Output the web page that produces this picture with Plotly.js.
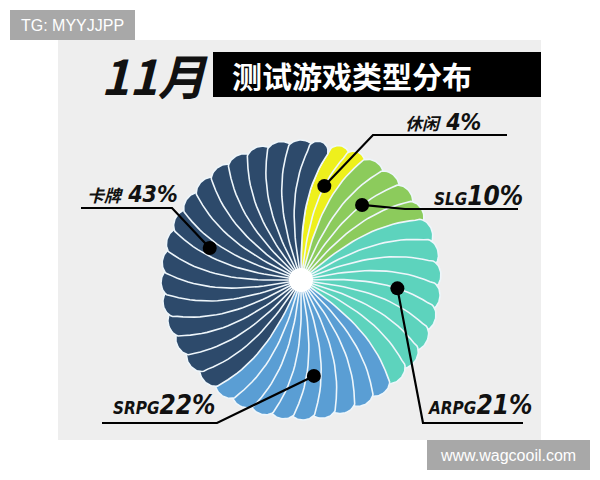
<!DOCTYPE html>
<html>
<head>
<meta charset="utf-8">
<script src="https://cdn.plot.ly/plotly-3.0.1.min.js"></script>
<style>html,body{margin:0;padding:0;background:#fff}</style>
</head>
<body>
<div id="chart" style="width:600px;height:480px"></div>
<script>
// ---- data ----
const categories = ['休闲', 'SLG', 'ARPG', 'SRPG', '卡牌'];
const values = [4, 10, 21, 22, 43];
const percentLabels = ['4%', '10%', '21%', '22%', '43%'];

// ---- style / layout config ----
const colors = ['#eef01c', '#8ccb5c', '#5dd3bd', '#5a9ed4', '#2d4a6b'];
const CX = 301, CY = 280;      // pie centre (px)
const RC = 129, CAP = 11;      // petal body radius and rounded cap height
const BEND = 12;               // spiral bend of petal edges (deg at rim)
const HOLE = 12;               // centre hole radius
const OVERLAP = 1.35;
const labelPos = [
  {tx: 403, ty: 122, ex: 373, ey: 135, lx: 507},
  {tx: 432, ty: 196, ex: 405, ey: 209, lx: 518},
  {tx: 426, ty: 405, ex: 423, ey: 423, lx: 523},
  {tx: 111, ty: 405, ex: 217, ey: 423, lx: 102},
  {tx: 85,  ty: 194, ex: 172, ey: 208, lx: 81}
];

function toXY(deg, r) {
  const a = deg * Math.PI / 180;
  return [CX + r * Math.sin(a), CY - r * Math.cos(a)];
}
function bend(r) { return BEND * Math.pow(r / RC, 2); }

function petal(a, w) {
  const xs = [], ys = [];
  const N = 24, M = 24;
  for (let i = 0; i <= N; i++) {
    const r = RC * i / N; const p = toXY(a + bend(r), r); xs.push(p[0]); ys.push(p[1]);
  }
  for (let j = 1; j < M; j++) {
    const t = j / M; const r = RC + CAP * Math.sqrt(1 - Math.pow(2 * t - 1, 2));
    const p = toXY(a + w * t + BEND, r); xs.push(p[0]); ys.push(p[1]);
  }
  for (let i = N; i >= 0; i--) {
    const r = RC * i / N; const p = toXY(a + w + bend(r), r); xs.push(p[0]); ys.push(p[1]);
  }
  return {xs, ys};
}

const total = values.reduce((s, v) => s + v, 0);
const traces = [];
const dotX = [], dotY = [];
let start = 0;
values.forEach((v, ci) => {
  const span = v / total * 360;
  const n = Math.max(2, Math.round(span / 9));
  const s = span / n;
  for (let j = 0; j < n; j++) {
    const a = start + j * s;
    const isLast = (ci === values.length - 1) && (j === n - 1);
    const w = isLast ? s : s * OVERLAP;
    const p = petal(a, w);
    traces.push({
      type: 'scatter', mode: 'lines', x: p.xs, y: p.ys, fill: 'toself',
      fillcolor: colors[ci], line: {color: '#eef6fb', width: 1.6},
      hoverinfo: 'skip', showlegend: false
    });
  }
  const mid = start + span / 2;
  const rd = 0.75 * RC;
  const d = toXY(mid + bend(rd), rd);
  dotX.push(d[0]); dotY.push(d[1]);
  start += span;
});

// leader lines
categories.forEach((c, i) => {
  const L = labelPos[i];
  traces.push({
    type: 'scatter', mode: 'lines',
    x: [dotX[i], L.ex, L.lx], y: [dotY[i], L.ey, L.ey],
    line: {color: '#000', width: 2.2}, hoverinfo: 'skip', showlegend: false
  });
});
// dots
traces.push({
  type: 'scatter', mode: 'markers', x: dotX, y: dotY,
  marker: {color: '#000', size: 14}, hoverinfo: 'skip', showlegend: false
});

const labelFont = 'DejaVu Sans Condensed, Noto Sans CJK SC, sans-serif';
const annotations = categories.map((c, i) => ({
  x: labelPos[i].tx, y: labelPos[i].ty, xref: 'x', yref: 'y',
  xanchor: 'left', yanchor: 'middle', showarrow: false,
  text: '<b><i>' + c + '</i></b><b><i><span style="font-size:' + (i === 4 || i === 0 ? 23 : 26) + 'px">' +
        (i === 0 || i === 4 ? ' ' : '') + percentLabels[i] + '</span></i></b>',
  font: {family: labelFont, size: 17, color: '#111'}
}));
annotations.push(
  {x: 99, y: 74, xref: 'x', yref: 'y', xanchor: 'left', yanchor: 'middle', showarrow: false,
   text: '<b><i>11月</i></b>', font: {family: 'Noto Sans CJK SC, sans-serif', size: 48, color: '#111'}},
  {x: 352, y: 75, xref: 'x', yref: 'y', xanchor: 'center', yanchor: 'middle', showarrow: false,
   text: '<b>测试游戏类型分布</b>', font: {family: 'Noto Sans CJK SC, sans-serif', size: 30, color: '#fff'}},
  {x: 72, y: 25, xref: 'x', yref: 'y', xanchor: 'center', yanchor: 'middle', showarrow: false,
   text: 'TG: MYYJJPP', font: {family: 'Liberation Sans, Arial, sans-serif', size: 16, color: '#fff'}},
  {x: 508, y: 455, xref: 'x', yref: 'y', xanchor: 'center', yanchor: 'middle', showarrow: false,
   text: 'www.wagcooil.com', font: {family: 'Liberation Sans, Arial, sans-serif', size: 16, color: '#fff'}}
);

const shapes = [
  {type: 'rect', xref: 'x', yref: 'y', x0: 58, x1: 541, y0: 40, y1: 440, fillcolor: '#eeeeee', line: {width: 0}, layer: 'below'},
  {type: 'rect', xref: 'x', yref: 'y', x0: 213, x1: 541, y0: 52, y1: 97, fillcolor: '#000', line: {width: 0}, layer: 'below'},
  {type: 'rect', xref: 'x', yref: 'y', x0: 10, x1: 135, y0: 10, y1: 40, fillcolor: '#a8a8a8', line: {width: 0}, layer: 'below'},
  {type: 'rect', xref: 'x', yref: 'y', x0: 427, x1: 590, y0: 440, y1: 470, fillcolor: '#a8a8a8', line: {width: 0}, layer: 'below'},
  {type: 'circle', xref: 'x', yref: 'y', x0: CX - HOLE, x1: CX + HOLE, y0: CY - HOLE, y1: CY + HOLE, fillcolor: '#fff', line: {width: 0}, layer: 'above'}
];

const layout = {
  width: 600, height: 480, margin: {l: 0, r: 0, t: 0, b: 0},
  paper_bgcolor: '#fff', plot_bgcolor: 'rgba(0,0,0,0)',
  xaxis: {range: [0, 600], visible: false, fixedrange: true},
  yaxis: {range: [480, 0], visible: false, fixedrange: true},
  showlegend: false, shapes, annotations
};
Plotly.newPlot('chart', traces, layout, {staticPlot: true, displayModeBar: false});
</script>
</body>
</html>
